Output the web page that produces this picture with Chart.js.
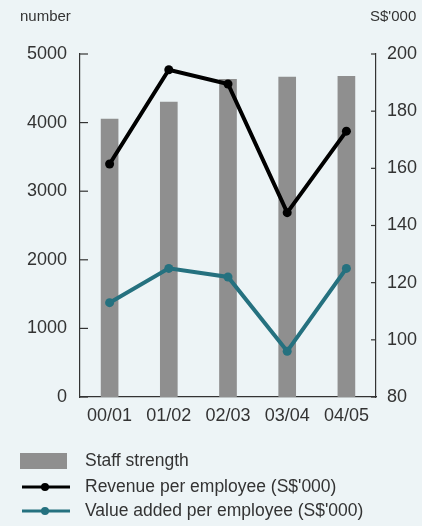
<!DOCTYPE html>
<html>
<head>
<meta charset="utf-8">
<script src="https://cdn.jsdelivr.net/npm/chart.js@4"></script>
<style>
  body { margin: 0; background: #edf4f6; }
  #wrap { width: 422px; height: 526px; }
</style>
</head>
<body>
<div id="wrap"><canvas id="staffChart" width="422" height="526"></canvas></div>
<script>
const categories = ['00/01', '01/02', '02/03', '03/04', '04/05'];
const staffStrength = [4050, 4300, 4630, 4665, 4675];
const revenuePerEmployee = [161.5, 194.5, 189.5, 144.5, 173];
const valueAddedPerEmployee = [113, 125, 122, 96, 125];
const leftAxisTitle = 'number';
const rightAxisTitle = "S$'000";

const textColor = '#333';
const fontFamily = '"Liberation Sans", Arial, sans-serif';
const barGrey = '#8f8f8f';
const teal = '#25717f';

// ticks drawn inward + axis titles + legend
const extras = {
    id: 'extras',
    afterDraw(chart) {
        const ctx = chart.ctx;
        const left = chart.scales.y;
        const right = chart.scales.y1;
        ctx.save();
        ctx.strokeStyle = textColor;
        ctx.lineWidth = 1.2;
        left.ticks.forEach(t => {
            const y = left.getPixelForValue(t.value);
            ctx.beginPath();
            ctx.moveTo(left.right, y);
            ctx.lineTo(left.right + 8, y);
            ctx.stroke();
        });
        right.ticks.forEach(t => {
            const y = right.getPixelForValue(t.value);
            ctx.beginPath();
            ctx.moveTo(right.left - 5, y);
            ctx.lineTo(right.left, y);
            ctx.stroke();
        });

        ctx.fillStyle = textColor;
        ctx.font = '15px ' + fontFamily;
        ctx.textBaseline = 'middle';
        ctx.textAlign = 'left';
        ctx.fillText(leftAxisTitle, 20, 17);
        ctx.fillText(rightAxisTitle, 370, 17);

        // legend
        const ds = chart.data.datasets;
        const rows = [461, 487, 511];
        ctx.font = '17.5px ' + fontFamily;
        ds.forEach((d, i) => {
            const y = rows[i];
            if (d.type === 'bar') {
                ctx.fillStyle = d.backgroundColor;
                ctx.fillRect(20, y - 8, 47, 16);
            } else {
                ctx.strokeStyle = d.borderColor;
                ctx.lineWidth = 3;
                ctx.beginPath();
                ctx.moveTo(22, y);
                ctx.lineTo(70, y);
                ctx.stroke();
                ctx.fillStyle = d.borderColor;
                ctx.beginPath();
                ctx.arc(45, y, 4, 0, Math.PI * 2);
                ctx.fill();
            }
            ctx.fillStyle = textColor;
            ctx.fillText(d.label, 85, y);
        });
        ctx.restore();
    }
};

const plain = v => String(v);

const staffChart = new Chart(document.getElementById('staffChart'), {
    data: {
        labels: categories,
        datasets: [
            {
                type: 'bar',
                label: 'Staff strength',
                data: staffStrength,
                backgroundColor: barGrey,
                barThickness: 17,
                yAxisID: 'y',
                order: 3
            },
            {
                type: 'line',
                label: "Revenue per employee (S$'000)",
                data: revenuePerEmployee,
                borderColor: '#000',
                backgroundColor: '#000',
                borderWidth: 4,
                pointRadius: 4.5,
                pointBackgroundColor: '#000',
                pointBorderWidth: 0,
                tension: 0,
                yAxisID: 'y1',
                order: 1
            },
            {
                type: 'line',
                label: "Value added per employee (S$'000)",
                data: valueAddedPerEmployee,
                borderColor: teal,
                backgroundColor: teal,
                borderWidth: 4,
                pointRadius: 4.5,
                pointBackgroundColor: teal,
                pointBorderWidth: 0,
                tension: 0,
                yAxisID: 'y1',
                order: 2
            }
        ]
    },
    options: {
        responsive: false,
        animation: false,
        layout: { padding: { top: 54, left: 0, right: 0, bottom: 0 } },
        plugins: {
            legend: { display: false },
            tooltip: { enabled: false }
        },
        scales: {
            x: {
                grid: { display: false, drawTicks: false },
                border: { display: true, color: textColor, width: 1.2 },
                ticks: { color: textColor, font: { family: fontFamily, size: 18 }, padding: 8, maxRotation: 0 },
                afterFit(scale) { scale.height = 129; }
            },
            y: {
                position: 'left',
                min: 0,
                max: 5000,
                grid: { display: false, drawTicks: false },
                border: { display: true, color: textColor, width: 1.2 },
                ticks: { stepSize: 1000, callback: plain, color: textColor, font: { family: fontFamily, size: 18 }, padding: 13 },
                afterFit(scale) { scale.width = 80; }
            },
            y1: {
                position: 'right',
                min: 80,
                max: 200,
                grid: { display: false, drawTicks: false },
                border: { display: true, color: textColor, width: 1.2 },
                ticks: { stepSize: 20, callback: plain, color: textColor, font: { family: fontFamily, size: 18 }, padding: 11 },
                afterFit(scale) { scale.width = 46; }
            }
        }
    },
    plugins: [extras]
});
</script>
</body>
</html>
